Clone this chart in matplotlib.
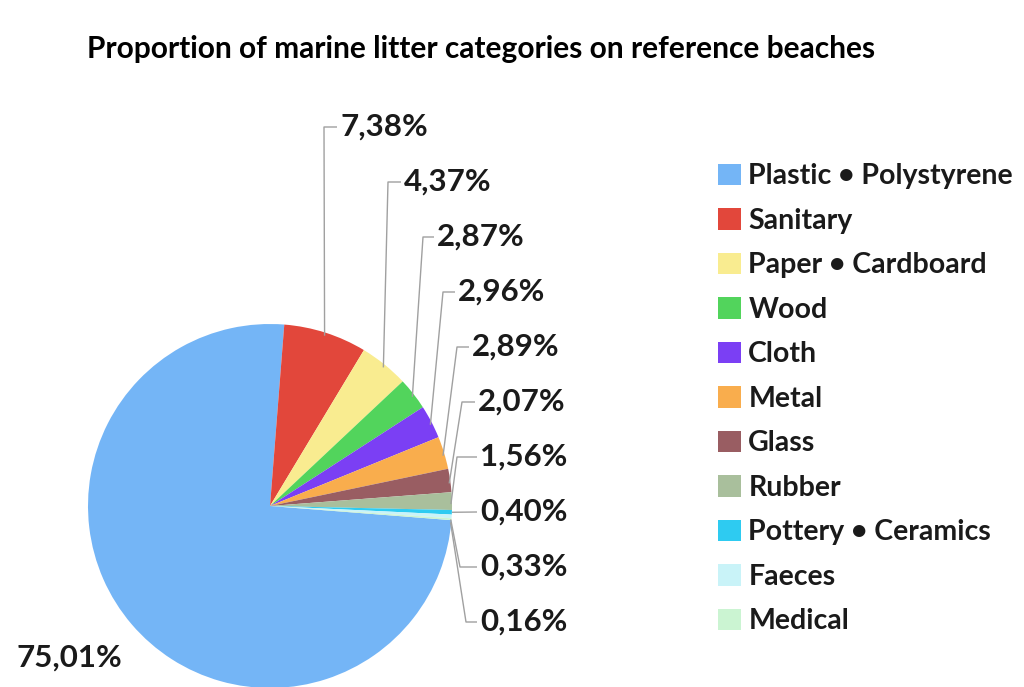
import matplotlib
matplotlib.use("Agg")
import matplotlib.pyplot as plt
import numpy as np

categories = ["Plastic \u2022 Polystyrene", "Sanitary", "Paper \u2022 Cardboard", "Wood",
              "Cloth", "Metal", "Glass", "Rubber", "Pottery \u2022 Ceramics", "Faeces", "Medical"]
shares = [75.01, 7.38, 4.37, 2.87, 2.96, 2.89, 2.07, 1.56, 0.40, 0.33, 0.16]
colors = ["#74b5f6", "#e2473b", "#f9ec90", "#52d45c", "#7b3ff4", "#f9ad4d",
          "#995d62", "#a9bf9c", "#2ecbf1", "#c9f3f8", "#cbf4d2"]

W, H = 1024, 687
FONT = "Lato"

def py(y):
    # pixel row (from top) -> data y
    return H - y

fig = plt.figure(figsize=(W / 100, H / 100), dpi=100)
ax = fig.add_axes([0, 0, 1, 1])

cx, cy, R = 270, py(506), 182
top_angle = 85.5
start = top_angle + 360 * shares[0] / 100

wedges, _ = ax.pie(shares, colors=colors, startangle=start, counterclock=False,
                   center=(cx, cy), radius=R, frame=True,
                   wedgeprops=dict(linewidth=0))
ax.set_xlim(0, W)
ax.set_ylim(0, H)
ax.axis("off")

ax.text(481, py(49), "Proportion of marine litter categories on reference beaches",
        ha="center", va="center", fontsize=21.5, fontweight="bold", family=FONT)

# percentage labels with leader lines (small slices, stacked on the right)
label_y = np.linspace(127, 622, 10)
text_x = [340, 404, 437, 458, 472, 478, 480, 480, 480, 480]
elbow_x = [324, 388, 423, 443, 457, 462, 457, None, 460, 466]

for i, w in enumerate(wedges[1:]):
    mid = np.deg2rad((w.theta1 + w.theta2) / 2)
    ax_x = cx + R * np.cos(mid)
    ax_y = cy + R * np.sin(mid)
    ly = py(label_y[i])
    tx = text_x[i]
    if elbow_x[i] is None:
        xs, ys = [ax_x, tx - 3], [ax_y, ly]
    else:
        xs = [ax_x - 1, elbow_x[i], tx - 3]
        ys = [ax_y - 3, ly, ly]
    ax.plot(xs, ys, color="#a0a0a0", lw=1.0, solid_capstyle="butt")
    txt = ("%.2f%%" % shares[i + 1]).replace(".", ",")
    ax.text(tx, ly, txt, ha="left", va="center", fontsize=22.5,
            fontweight="bold", family=FONT, color="#1a1a1a")

ax.text(16, py(658), ("%.2f%%" % shares[0]).replace(".", ","), ha="left", va="center",
        fontsize=22.5, fontweight="bold", family=FONT, color="#1a1a1a")

leg = ax.legend(wedges, categories, loc="upper left", bbox_to_anchor=(707 / W, 1 - 152 / H),
                frameon=False, fontsize=20.5, handlelength=0.8, handleheight=0.8,
                handletextpad=0.25, labelspacing=0.65, borderaxespad=0)
for t in leg.get_texts():
    t.set_fontfamily(FONT)
    t.set_fontweight("bold")
    t.set_color("#1a1a1a")

fig.savefig("out.png", dpi=100)
